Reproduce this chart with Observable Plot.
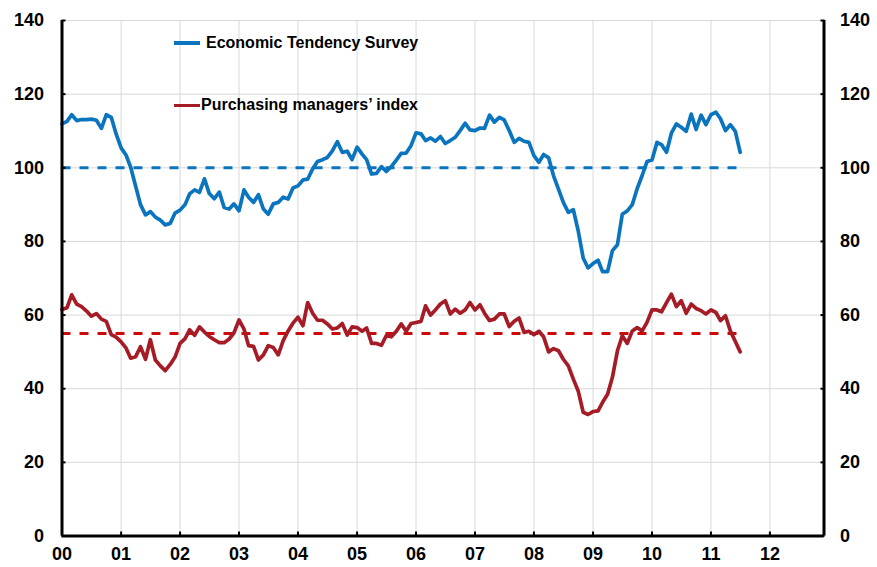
<!DOCTYPE html>
<html><head><meta charset="utf-8">
<script src="https://cdn.jsdelivr.net/npm/d3@7"></script>
<script src="https://cdn.jsdelivr.net/npm/@observablehq/plot@0.6"></script>
<style>
body{margin:0;background:#fff;}
#wrap{position:relative;width:877px;height:567px;font-family:"Liberation Sans",Arial,sans-serif;font-weight:bold;}
.leg{position:absolute;left:174px;height:20px;display:flex;align-items:center;font-size:16px;color:#000;white-space:nowrap;}
.sw{display:inline-block;width:26px;height:3.5px;}
</style></head><body>
<div id="wrap"></div>
<script>
// Monthly data, Jan 2000 – Jul 2011
const startMonth = "2000-01-01";
const axisEnd = "2012-12-01";
const etsName = "Economic Tendency Survey";
const pmiName = "Purchasing managers\u2019 index";
const ets = [
  111.9,112.6,114.4,112.8,113.1,113.1,113.2,112.9,110.7,114.4,113.7,109.2,
  105.4,103.4,100.2,95.0,90.0,87.2,88.1,86.6,85.8,84.5,84.9,87.7,
  88.5,90.0,92.9,94.0,93.3,97.0,93.0,91.6,93.4,89.2,88.8,90.2,
  88.3,94.0,92.0,90.6,92.7,88.8,87.4,90.2,90.6,92.0,91.5,94.5,
  95.1,96.7,96.9,99.7,101.7,102.2,102.8,104.6,107.1,104.2,104.5,102.2,
  105.6,103.7,102.2,98.3,98.5,100.3,99.0,100.3,102.1,103.9,104.0,106.0,
  109.5,109.2,107.4,108.1,107.2,108.5,106.6,107.4,108.3,110.1,112.1,110.3,
  110.1,110.8,110.7,114.3,112.4,113.7,113.0,110.1,106.9,108.0,107.2,106.9,
  103.3,101.5,103.6,102.7,97.9,94.2,90.6,87.9,88.6,82.9,75.5,72.8,
  74.0,74.9,71.8,71.8,77.5,79.1,87.4,88.3,90.0,94.3,97.9,101.7,
  102.1,106.9,106.3,104.2,109.4,111.9,111.0,109.9,114.6,110.4,114.3,111.7,
  114.4,115.1,113.3,110.1,111.7,109.9,104.2
];
const pmi = [
  61.5,62.0,65.5,63.0,62.3,61.1,59.7,60.4,58.9,58.3,54.7,54.0,
  52.7,51.0,48.3,48.7,51.4,48.0,53.3,47.8,46.2,44.9,46.6,48.6,
  52.3,53.6,56.0,54.5,56.8,55.4,54.2,53.3,52.5,52.5,53.5,55.2,
  58.7,56.2,51.7,51.5,47.8,49.2,51.7,51.2,49.2,53.0,55.7,57.8,
  59.4,57.1,63.4,60.5,58.6,58.6,57.6,56.2,56.5,57.7,54.6,56.8,
  56.6,55.6,56.5,52.3,52.3,51.8,54.4,54.1,55.6,57.6,55.6,57.7,
  58.0,58.3,62.5,60.0,61.4,63.0,63.9,60.3,61.6,60.5,61.4,63.4,
  61.4,62.8,60.5,58.5,58.9,60.3,60.3,56.9,58.3,59.2,55.3,55.6,
  54.7,55.6,54.1,50.0,50.9,50.3,48.0,46.2,42.6,39.4,33.6,33.0,
  33.8,34.0,36.3,38.5,43.1,50.3,54.4,52.3,55.7,56.6,55.7,58.0,
  61.4,61.4,60.9,63.4,65.7,62.3,63.9,60.5,63.0,61.8,61.2,60.3,
  61.4,60.7,58.5,59.8,55.7,52.8,50.0
];
const etsRef = 100;
const pmiRef = 55;
const yTicks = [0,20,40,60,80,100,120,140];
const yearLabels = ["00","01","02","03","04","05","06","07","08","09","10","11","12"];

const blue = "#0B74BE";
const red = "#A51C26";
const redDash = "#CC0A0A";
const grid = "#D9D9D9";

const start = new Date(startMonth);
const rows = ets.map((v, i) => ({date: d3.utcMonth.offset(start, i), ets: v, pmi: pmi[i]}));
const first = rows[0].date, last = rows[rows.length - 1].date;
const yearTicks = yearLabels.map((_, i) => d3.utcYear.offset(start, i));
const fmt = d => yearLabels[yearTicks.findIndex(t => +t === +d)];

const chart = Plot.plot({
  width: 877, height: 567,
  marginLeft: 61.5, marginRight: 53.5, marginTop: 20, marginBottom: 31.5,
  x: {type: "utc", domain: [start, new Date(axisEnd)]},
  y: {domain: [0, 140]},
  style: {fontFamily: '"Liberation Sans", Arial, sans-serif', fontWeight: "bold", fontSize: "18px", color: "#000", background: "#fff", overflow: "visible"},
  marks: [
    Plot.gridX(yearTicks.slice(1), {stroke: grid, strokeOpacity: 1, strokeWidth: 1}),
    Plot.gridY(yTicks.slice(1), {stroke: grid, strokeOpacity: 1, strokeWidth: 1}),
    Plot.ruleY([etsRef], {x1: first, x2: last, stroke: blue, strokeWidth: 3, strokeDasharray: "9,9"}),
    Plot.ruleY([pmiRef], {x1: first, x2: last, stroke: redDash, strokeWidth: 3, strokeDasharray: "9,9"}),
    Plot.line(rows, {x: "date", y: "ets", stroke: blue, strokeWidth: 3.7}),
    Plot.line(rows, {x: "date", y: "pmi", stroke: red, strokeWidth: 3.7}),
    Plot.axisX(yearTicks, {tickSize: -4, fill: "none", strokeWidth: 2, label: null}),
    Plot.axisX(yearTicks, {tickSize: 0, tickPadding: 11, tickFormat: fmt, label: null}),
    Plot.axisY(yTicks, {anchor: "left", tickSize: -4, fill: "none", strokeWidth: 2, label: null}),
    Plot.axisY(yTicks, {anchor: "left", tickSize: 0, tickPadding: 18, label: null}),
    Plot.axisY(yTicks, {anchor: "right", tickSize: -4, fill: "none", strokeWidth: 2, label: null}),
    Plot.axisY(yTicks, {anchor: "right", tickSize: 0, tickPadding: 16, label: null}),
    Plot.ruleX([start], {stroke: "#000", strokeWidth: 3}),
    Plot.ruleX([new Date(axisEnd)], {stroke: "#000", strokeWidth: 3}),
    Plot.ruleY([0], {stroke: "#000", strokeWidth: 3})
  ]
});
const wrap = document.getElementById("wrap");
wrap.appendChild(chart);

const legendItems = [
  {name: etsName, color: blue, top: 33, gap: 6},
  {name: pmiName, color: red, top: 95.3, gap: 1}
];
for (const it of legendItems) {
  const d = document.createElement("div");
  d.className = "leg";
  d.style.top = it.top + "px";
  const sw = document.createElement("span");
  sw.className = "sw";
  sw.style.background = it.color;
  const t = document.createElement("span");
  t.textContent = it.name;
  t.style.marginLeft = it.gap + "px";
  d.appendChild(sw); d.appendChild(t);
  wrap.appendChild(d);
}
</script>
</body></html>
